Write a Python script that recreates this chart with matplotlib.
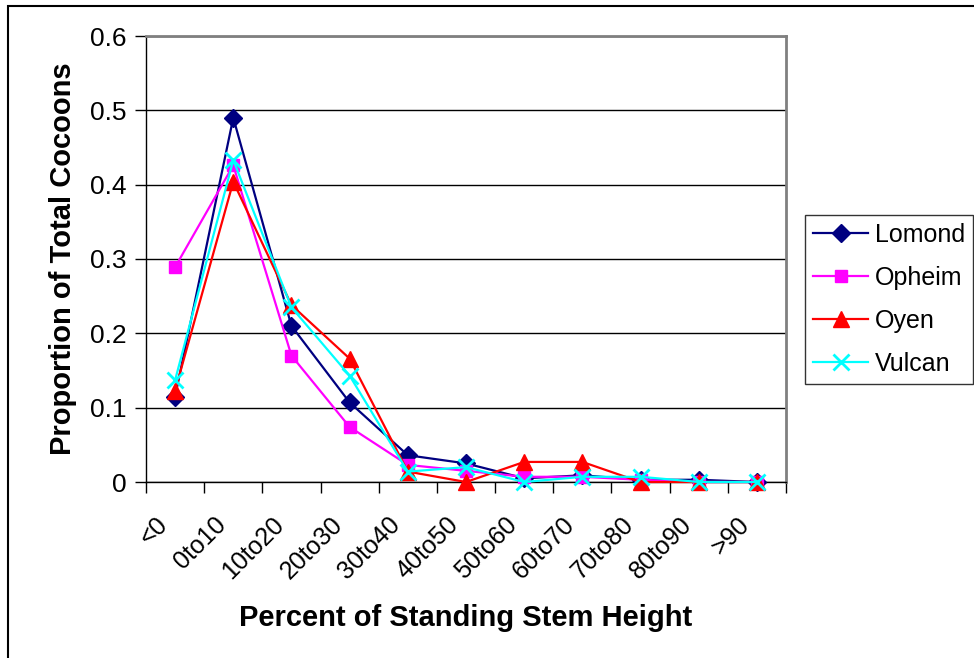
import matplotlib
matplotlib.use("Agg")
import matplotlib.pyplot as plt
from matplotlib.patches import Rectangle

plt.rcParams['font.family'] = ['Liberation Sans', 'DejaVu Sans']

categories = ["<0", "0to10", "10to20", "20to30", "30to40", "40to50",
              "50to60", "60to70", "70to80", "80to90", ">90"]
lomond = [0.115, 0.49, 0.21, 0.107, 0.036, 0.025, 0.005, 0.009, 0.003, 0.003, 0.0]
opheim = [0.289, 0.426, 0.170, 0.074, 0.023, 0.015, 0.007, 0.007, 0.003, 0.0, 0.0]
oyen = [0.123, 0.404, 0.238, 0.166, 0.014, 0.0, 0.027, 0.027, 0.0, 0.0, 0.0]
vulcan = [0.137, 0.433, 0.235, 0.143, 0.014, 0.02, 0.0, 0.007, 0.007, 0.0, 0.0]
yticks = [0, 0.1, 0.2, 0.3, 0.4, 0.5, 0.6]
ytick_labels = ["0", "0.1", "0.2", "0.3", "0.4", "0.5", "0.6"]

W, H = 974, 658
fig = plt.figure(figsize=(W / 100, H / 100), dpi=100)

# outer chart frame (right/bottom edges fall outside the canvas)
fig.patches.append(Rectangle((8 / W, -0.05), 1.2, 1 - 6 / H + 0.05,
                             transform=fig.transFigure, fill=False,
                             edgecolor="black", linewidth=1.5))

ax = fig.add_axes([146 / W, 1 - 482 / H, (786 - 146) / W, (482 - 36) / H])

x = list(range(len(categories)))
series = [
    ("Lomond", lomond, "#000080", "D", 9),
    ("Opheim", opheim, "#FF00FF", "s", 8.5),
    ("Oyen", oyen, "#FF0000", "^", 11),
    ("Vulcan", vulcan, "#00FFFF", "x", 11),
]
for name, vals, col, mk, ms in series:
    ax.plot(x, vals, color=col, marker=mk, markersize=ms, linewidth=1.6,
            markerfacecolor=col, markeredgecolor=col,
            markeredgewidth=2 if mk == "x" else 1, label=name,
            clip_on=False, zorder=3)

ax.set_xlim(-0.5, len(categories) - 0.5)
ax.set_ylim(0, 0.6)
ax.set_yticks(yticks)
ax.set_yticklabels(ytick_labels, fontsize=19)
ax.yaxis.grid(True, color="black", linewidth=1)
ax.set_axisbelow(True)

# category labels sit slightly left of each category centre (no visible mark)
ax.set_xticks([i - 0.19 for i in x])
ax.set_xticklabels(categories, fontsize=18, rotation=45, ha="right",
                   va="center", rotation_mode="anchor")
# tick marks separate the categories
ax.set_xticks([i - 0.5 for i in range(len(categories) + 1)], minor=True)
ax.tick_params(axis="x", which="major", length=0, pad=28)
ax.tick_params(axis="x", which="minor", length=8, width=1, direction="out")
ax.tick_params(axis="y", length=8, width=1, direction="out", pad=6)

for side in ("top", "right"):
    ax.spines[side].set_color("#808080")
    ax.spines[side].set_linewidth(2)
for side in ("left", "bottom"):
    ax.spines[side].set_color("black")
    ax.spines[side].set_linewidth(1)

ax.set_xlabel("Percent of Standing Stem Height", fontsize=21,
              fontweight="bold", labelpad=15)
ax.set_ylabel("Proportion of Total Cocoons", fontsize=21,
              fontweight="bold", labelpad=9)

leg = ax.legend(loc="upper left", bbox_to_anchor=(805 / W, 1 - 215 / H),
                bbox_transform=fig.transFigure, fontsize=18, frameon=True,
                fancybox=False, edgecolor="black", borderaxespad=0,
                handlelength=2.2, labelspacing=0.76, borderpad=0.32,
                handletextpad=0.28)
leg.get_frame().set_linewidth(1)

fig.savefig("out.png", dpi=100)
